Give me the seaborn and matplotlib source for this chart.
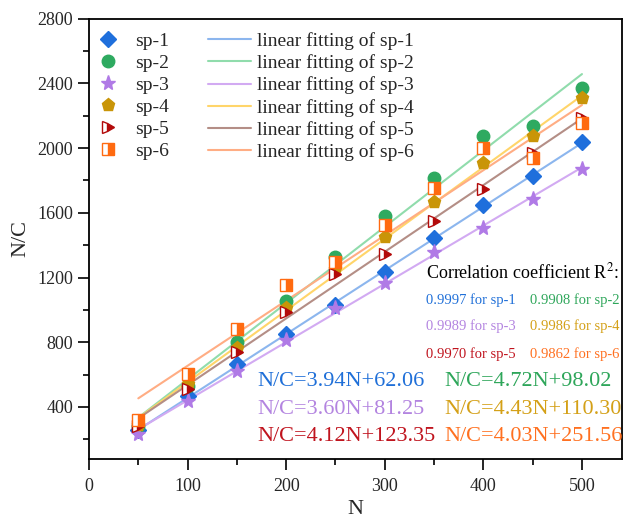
import matplotlib
matplotlib.use("Agg")
import matplotlib.pyplot as plt
from matplotlib.lines import Line2D
import seaborn as sns
import numpy as np
import pandas as pd

N = [50, 100, 150, 200, 250, 300, 350, 400, 450, 500]
sp1 = [258, 468, 665, 850, 1031, 1237, 1443, 1649, 1830, 2040]
sp2 = [280, 530, 804, 1057, 1326, 1581, 1817, 2075, 2137, 2374]
sp3 = [231, 437, 620, 814, 1010, 1165, 1360, 1509, 1684, 1870]
sp4 = [289, 540, 763, 1012, 1250, 1453, 1669, 1907, 2075, 2308]
sp5 = [285, 511, 742, 989, 1220, 1345, 1552, 1748, 1972, 2189]
sp6 = [320, 602, 880, 1154, 1298, 1525, 1754, 1999, 1937, 2154]

names = ["sp-1", "sp-2", "sp-3", "sp-4", "sp-5", "sp-6"]
slopes = [3.94, 4.72, 3.60, 4.43, 4.12, 4.03]
intercepts = [62.06, 98.02, 81.25, 110.30, 123.35, 251.56]
r2 = ["0.9997", "0.9908", "0.9989", "0.9986", "0.9970", "0.9862"]
eq_labels = ["N/C=3.94N+62.06", "N/C=4.72N+98.02", "N/C=3.60N+81.25",
             "N/C=4.43N+110.30", "N/C=4.12N+123.35", "N/C=4.03N+251.56"]
fit_range = [50, 500]

series = [sp1, sp2, sp3, sp4, sp5, sp6]
marker_colors = ["#1f6fdc", "#2eaa60", "#b07ae6", "#c99508", "#b30a0a", "#ff6a10"]
line_colors = ["#8cb6ee", "#90dcac", "#d2aaf2", "#ffd56a", "#b48e86", "#ffad84"]
text_colors = ["#1f6fd8", "#2ea65a", "#b384e0", "#d4a017", "#c0141e", "#ff7020"]
markers = ["D", "o", "*", "p", ">", "s"]
msizes = [8, 9, 11, 9.5, 8.5, 8]
fills = ["full", "full", "full", "full", "right", "right"]

sns.set_theme(style="ticks")
plt.rcParams["font.family"] = ["Liberation Serif", "DejaVu Serif"]
plt.rcParams["mathtext.fontset"] = "stix"

fig = plt.figure(figsize=(6.29, 5.21), dpi=100)
ax = fig.add_axes([0.1415, 0.119, 0.848, 0.845])

marker_handles, line_handles = [], []
for i, name in enumerate(names):
    fx = np.array(fit_range, dtype=float)
    fdf = pd.DataFrame({"N": fx, "NC": slopes[i] * fx + intercepts[i]})
    sns.lineplot(data=fdf, x="N", y="NC", ax=ax, color=line_colors[i],
                 linewidth=1.5, zorder=2)
for i, name in enumerate(names):
    df = pd.DataFrame({"N": N, "NC": series[i]})
    sns.lineplot(data=df, x="N", y="NC", ax=ax, linestyle="none",
                 marker=markers[i], markersize=msizes[i],
                 color=marker_colors[i], markerfacecolor=marker_colors[i],
                 markeredgecolor=marker_colors[i], markeredgewidth=1.0,
                 fillstyle=fills[i], markerfacecoloralt="white", zorder=3)
    marker_handles.append(Line2D([], [], linestyle="none", marker=markers[i],
                                 markersize=msizes[i], color=marker_colors[i],
                                 markeredgecolor=marker_colors[i],
                                 fillstyle=fills[i], markerfacecoloralt="white"))
    line_handles.append(Line2D([], [], color=line_colors[i], linewidth=1.5))

labels = names + ["linear fitting of " + n for n in names]
ax.legend(marker_handles + line_handles, labels, ncol=2, loc="upper left",
          frameon=False, fontsize=14, handlelength=2.2, columnspacing=2.0,
          labelspacing=0.22, handletextpad=0.3, borderaxespad=0.0,
          bbox_to_anchor=(-0.019, 0.987))

ax.set_xlim(0, 541)
ax.set_ylim(78, 2800)
ax.set_xticks([0, 100, 200, 300, 400, 500])
ax.set_xticks([50, 150, 250, 350, 450], minor=True)
ax.set_yticks([400, 800, 1200, 1600, 2000, 2400, 2800])
ax.set_yticks([200, 600, 1000, 1400, 1800, 2200, 2600], minor=True)
ax.tick_params(axis="both", which="major", direction="out", length=8,
               width=1.2, labelsize=13, top=False, right=False, color="black")
ax.tick_params(axis="x", which="major", pad=6)
ax.tick_params(axis="both", which="minor", direction="out", length=4,
               width=1.2, top=False, right=False, color="black")
for s in ax.spines.values():
    s.set_linewidth(1.3)
    s.set_color("black")
ax.set_xlabel("N", fontsize=16, labelpad=3)
ax.set_ylabel("N/C", fontsize=16, labelpad=5)

ax.text(0.631, 0.423, "Correlation coefficient R$^2$:", transform=ax.transAxes,
        fontsize=13, va="center", ha="left", color="black")
r2_x = [0.631, 0.826]
r2_y = [0.361, 0.302, 0.239]
for i in range(6):
    ax.text(r2_x[i % 2], r2_y[i // 2], r2[i] + " for " + names[i],
            transform=ax.transAxes, fontsize=10.5, va="center", ha="left",
            color=text_colors[i])
eq_x = [0.315, 0.667]
eq_y = [0.175, 0.112, 0.050]
for i in range(6):
    ax.text(eq_x[i % 2], eq_y[i // 2], eq_labels[i], transform=ax.transAxes,
            fontsize=16, va="center", ha="left", color=text_colors[i])

fig.savefig("out.png", dpi=100)
